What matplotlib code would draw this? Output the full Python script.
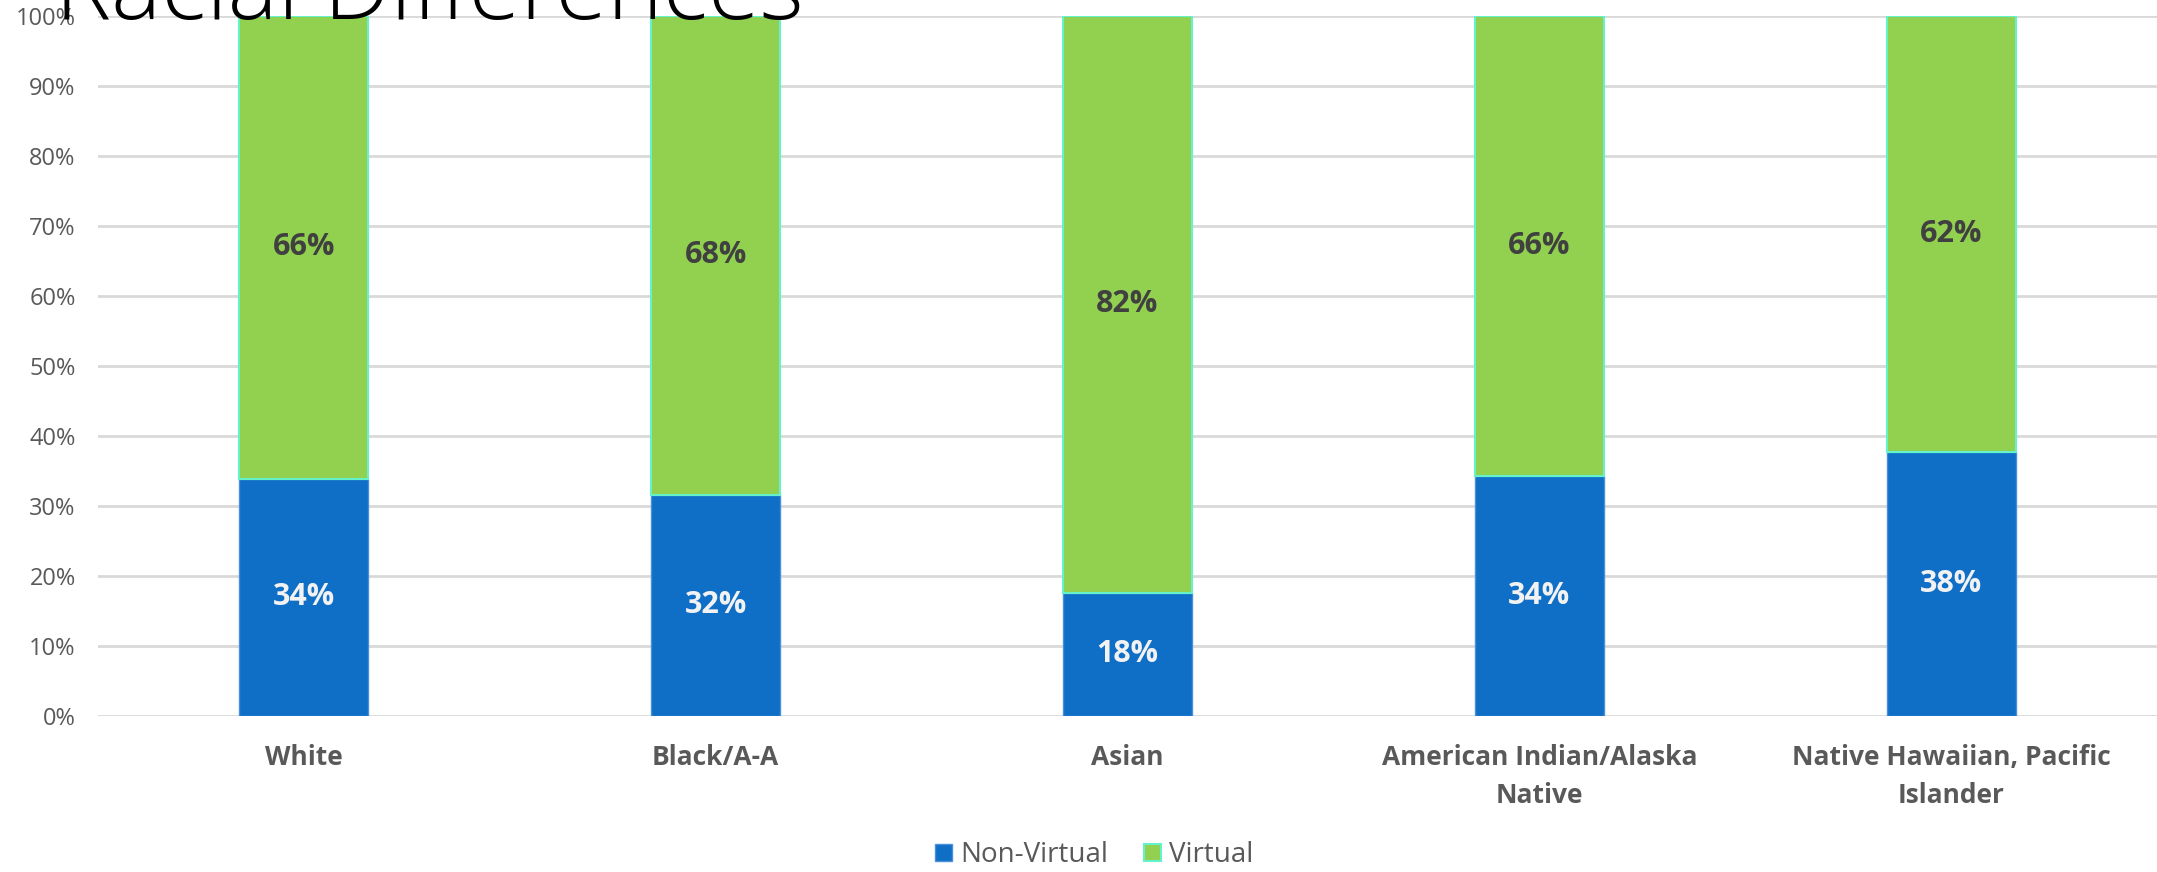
import matplotlib
matplotlib.use("Agg")
import matplotlib.pyplot as plt
import numpy as np

plt.rcParams['font.family'] = ['Open Sans', 'DejaVu Sans']

# data
groups = ['White', 'Black/A-A', 'Asian', 'American Indian/Alaska\nNative',
          'Native Hawaiian, Pacific\nIslander']
non_virtual = [33.9, 31.6, 17.6, 34.3, 37.7]
virtual = [66.1, 68.4, 82.4, 65.7, 62.3]
yticks = [0, 10, 20, 30, 40, 50, 60, 70, 80, 90, 100]

blue = '#0F6FC6'
green = '#92D050'
gray = '#595959'

fig = plt.figure(figsize=(21.57, 8.72), dpi=100)
ax = fig.add_axes([0.0454, 0.179, 0.9546, 0.8027])

x = np.arange(len(groups))
b1 = ax.bar(x, non_virtual, width=0.313, color=blue, edgecolor='#4A90D9',
            linewidth=1, label='Non-Virtual', zorder=3)
b2 = ax.bar(x, virtual, width=0.313, bottom=non_virtual, color=green,
            edgecolor='#66F2C8', linewidth=1.5, label='Virtual', zorder=3)

ax.bar_label(b1, labels=['%d%%' % round(v) for v in non_virtual], label_type='center',
             color='#F2F2F2', fontsize=22, fontweight='bold')
ax.bar_label(b2, labels=['%d%%' % round(v) for v in virtual], label_type='center',
             color='#404040', fontsize=22, fontweight='bold')

ax.set_xlim(-0.5, len(groups) - 0.5)
ax.set_ylim(0, 100)
ax.set_yticks(yticks)
ax.set_yticklabels(['%d%%' % t for t in yticks], fontsize=17, color=gray)
ax.set_xticks(x)
ax.set_xticklabels(groups, fontsize=19, fontweight='bold', color=gray,
                   linespacing=1.55)
ax.tick_params(axis='y', length=0, pad=16)
ax.tick_params(axis='x', length=0, pad=20)
ax.yaxis.grid(True, color='#D9D9D9', linewidth=2, zorder=0)
for s in ax.spines.values():
    s.set_visible(False)

leg = ax.legend(loc='lower center', bbox_to_anchor=(0.484, -0.255), ncol=2,
                frameon=False, fontsize=20, handlelength=0.6, handleheight=0.6,
                handletextpad=0.3, columnspacing=1.3)
for t in leg.get_texts():
    t.set_color(gray)

# title is cut off by the top edge in the original
fig.text(0.0255, 0.978, 'Racial Differences', fontsize=68, color='black',
         va='baseline', ha='left', fontweight='light')

fig.savefig('out.png', dpi=100)
